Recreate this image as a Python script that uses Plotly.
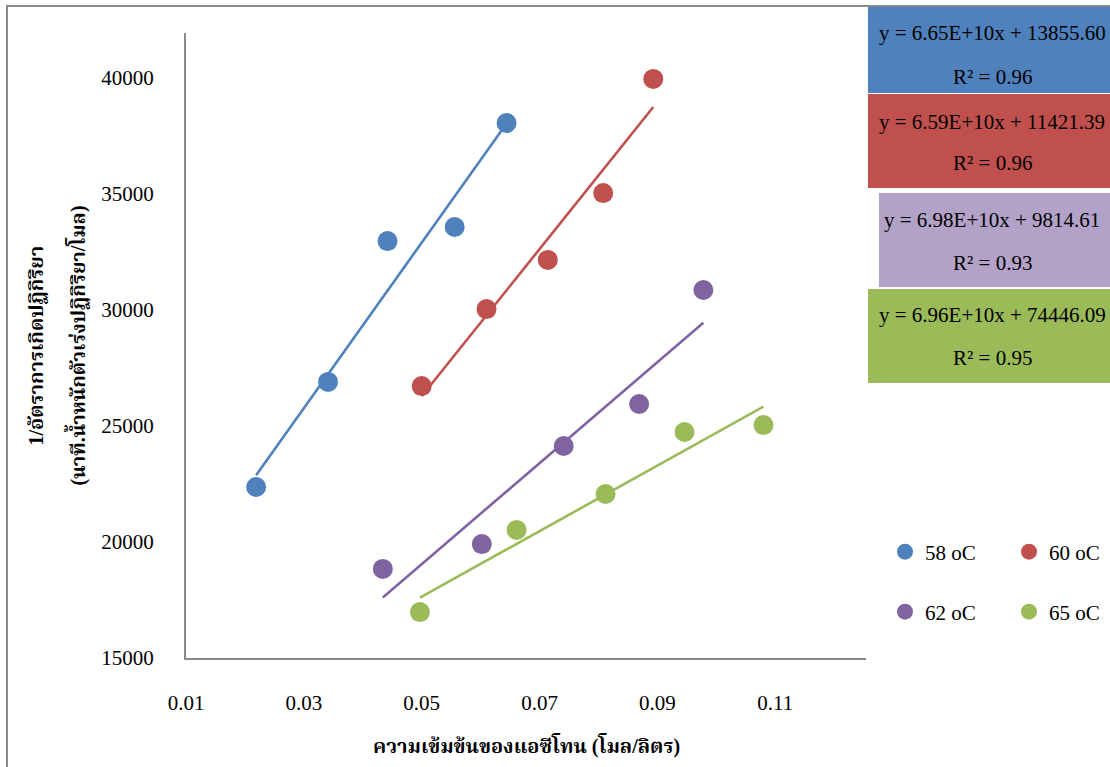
import numpy as np
import plotly.graph_objects as go

# Acetone concentration (mol/L) and 1/rate values for each temperature
x_58 = [0.0219, 0.0341, 0.0442, 0.0556, 0.0644]
y_58 = [22370, 26900, 32970, 33580, 38060]

x_60 = [0.0500, 0.0610, 0.0714, 0.0808, 0.0893]
y_60 = [26720, 30040, 32160, 35040, 39960]

x_62 = [0.0434, 0.0602, 0.0741, 0.0869, 0.0978]
y_62 = [18840, 19910, 24140, 25950, 30860]

x_65 = [0.0497, 0.0661, 0.0812, 0.0946, 0.1080]
y_65 = [16980, 20520, 22070, 24740, 25040]

series_names = ["58 oC", "60 oC", "62 oC", "65 oC"]
marker_colors = ["#4F81BD", "#C0504D", "#8064A2", "#9BBB59"]
box_colors = ["#4F81BD", "#C0504D", "#B3A2C7", "#9BBB59"]
equations = [
    "y = 6.65E+10x + 13855.60",
    "y = 6.59E+10x + 11421.39",
    "y = 6.98E+10x + 9814.61",
    "y = 6.96E+10x + 74446.09",
]
r_squared = ["R² = 0.96", "R² = 0.96", "R² = 0.93", "R² = 0.95"]

x_ticks = [0.01, 0.03, 0.05, 0.07, 0.09, 0.11]
y_ticks = [15000, 20000, 25000, 30000, 35000, 40000]

xs = [x_58, x_60, x_62, x_65]
ys = [y_58, y_60, y_62, y_65]

SERIF = "Liberation Serif, Times New Roman, serif"
THAI = "Liberation Serif, Noto Serif Thai, Noto Sans Thai, Garuda, Loma, serif"

fig = go.Figure()

# linear trendlines (least squares) under the markers
for xv, yv, col in zip(xs, ys, marker_colors):
    slope, icpt = np.polyfit(xv, yv, 1)
    xl = np.array([min(xv), max(xv)])
    fig.add_trace(go.Scatter(
        x=xl, y=slope * xl + icpt, mode="lines",
        line=dict(color=col, width=2.6), showlegend=False, hoverinfo="skip",
    ))

legend_ids = ["legend", "legend", "legend2", "legend2"]
for xv, yv, col, name, lg in zip(xs, ys, marker_colors, series_names, legend_ids):
    fig.add_trace(go.Scatter(
        x=xv, y=yv, mode="markers", name=name,
        marker=dict(color=col, size=20, line=dict(width=0)),
        legend=lg,
    ))

# paper coordinates: plot area spans 186..866 px horizontally, 33..658 px vertically
L, R, T, B = 186, 866, 33, 658
W, H = 1110, 767


def px_x(p):
    return (p - L) / (R - L)


def px_y(p):
    return (B - p) / (B - T)


shapes = []
annotations = []

# outer chart frame
shapes.append(dict(type="rect", xref="paper", yref="paper",
                   x0=px_x(7), x1=px_x(1300), y0=px_y(900), y1=px_y(6),
                   line=dict(color="#8A8A8A", width=2), fillcolor="rgba(0,0,0,0)",
                   layer="below"))

# coloured equation boxes on the right
box_geom = [(868, 7, 93), (868, 94, 188), (879, 193, 287), (868, 289, 383)]
text_rows = [(33, 77), (122, 163), (220, 263), (315, 358)]
for (bx, by0, by1), col, eq, r2, (ty1, ty2) in zip(box_geom, box_colors, equations,
                                                    r_squared, text_rows):
    shapes.append(dict(type="rect", xref="paper", yref="paper",
                       x0=px_x(bx), x1=px_x(1200), y0=px_y(by1), y1=px_y(by0),
                       line=dict(width=0), fillcolor=col, layer="above"))
    for txt, ty in ((eq, ty1), (r2, ty2)):
        annotations.append(dict(xref="paper", yref="paper", x=px_x(992), y=px_y(ty),
                                text=txt, showarrow=False, xanchor="center",
                                yanchor="middle",
                                font=dict(family=SERIF, size=21, color="#000000")))

# axis titles
annotations.append(dict(xref="paper", yref="paper", x=0.5, y=px_y(745),
                        text="<b>ความเข้มข้นของแอซีโทน (โมล/ลิตร)</b>",
                        showarrow=False, xanchor="center", yanchor="middle",
                        font=dict(family=THAI, size=20, color="#000000")))
annotations.append(dict(xref="paper", yref="paper", x=px_x(36), y=0.5,
                        text="<b>1/อัตราการเกิดปฏิกิริยา</b>", textangle=-90,
                        showarrow=False, xanchor="center", yanchor="middle",
                        font=dict(family=THAI, size=20, color="#000000")))
annotations.append(dict(xref="paper", yref="paper", x=px_x(76), y=0.5,
                        text="<b>(นาที.น้ำหนักตัวเร่งปฏิกิริยา/โมล)</b>", textangle=-90,
                        showarrow=False, xanchor="center", yanchor="middle",
                        font=dict(family=THAI, size=20, color="#000000")))

legend_style = dict(orientation="h", xanchor="left", yanchor="middle",
                    bgcolor="rgba(0,0,0,0)", borderwidth=0,
                    font=dict(family=SERIF, size=21, color="#000000"),
                    entrywidth=79, entrywidthmode="pixels", itemsizing="trace")

fig.update_layout(
    width=W, height=H,
    margin=dict(l=L, r=W - R, t=T, b=H - B, pad=0, autoexpand=False),
    paper_bgcolor="white", plot_bgcolor="white",
    font=dict(family=SERIF, size=20, color="#000000"),
    xaxis=dict(range=[0.01, 0.1254], tickvals=x_ticks,
               ticktext=[f"{v:.2f}" for v in x_ticks],
               showgrid=False, zeroline=False, showline=True,
               linecolor="#8A8A8A", linewidth=2, ticks="",
               ticklabelstandoff=25,
               tickfont=dict(family=SERIF, size=21, color="#000000")),
    yaxis=dict(range=[15000, 41940], tickvals=y_ticks,
               ticktext=[str(v) for v in y_ticks],
               showgrid=False, zeroline=False, showline=True,
               linecolor="#8A8A8A", linewidth=2, ticks="",
               ticklabelstandoff=26,
               tickfont=dict(family=SERIF, size=21, color="#000000")),
    legend=dict(x=px_x(885), y=px_y(552), **legend_style),
    legend2=dict(x=px_x(885), y=px_y(612), **legend_style),
    shapes=shapes,
    annotations=annotations,
)

fig.write_html("out.html")
